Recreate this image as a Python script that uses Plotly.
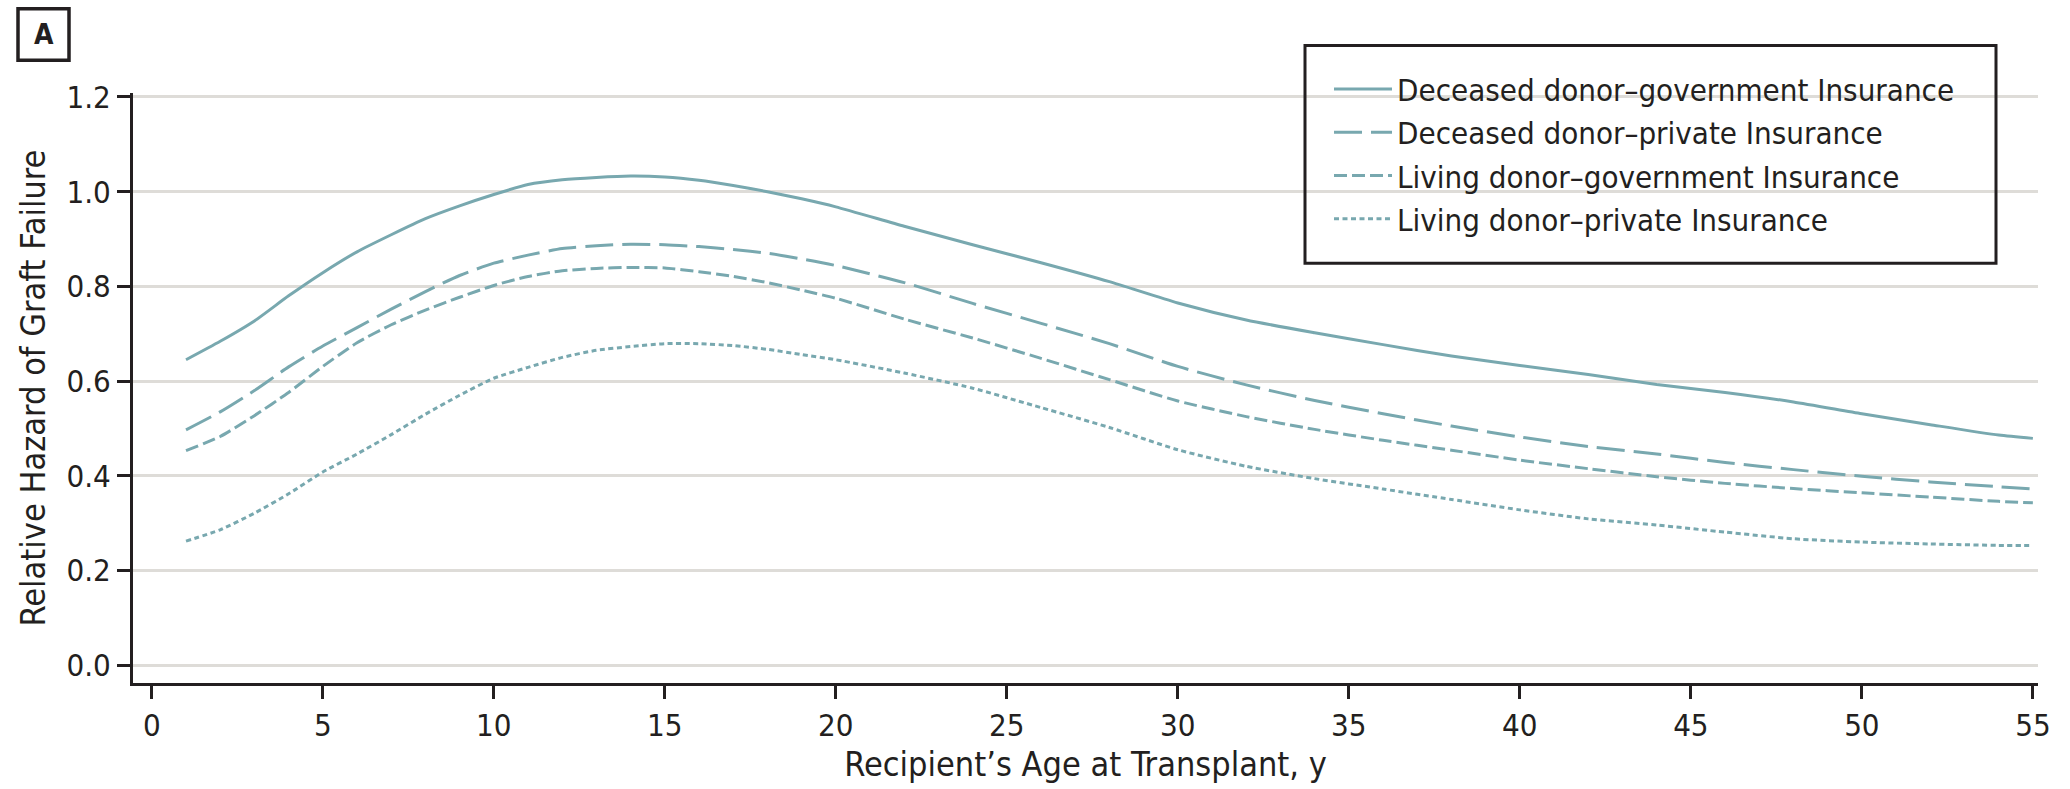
import plotly.graph_objects as go

# ---- data ----
ages = [1, 2, 3, 4, 5, 6, 7, 8, 9, 10, 11, 12, 13, 14, 15, 16, 17, 18, 19, 20,
        22, 24, 26, 28, 30, 32, 34, 36, 38, 40, 42, 44, 46, 48, 50, 52, 54, 55]

deceased_gov = [0.645, 0.684, 0.727, 0.780, 0.829, 0.873, 0.909, 0.943, 0.970, 0.994,
                1.015, 1.025, 1.030, 1.033, 1.031, 1.024, 1.013, 1.000, 0.985, 0.968,
                0.927, 0.888, 0.850, 0.810, 0.765, 0.729, 0.702, 0.677, 0.653, 0.633,
                0.614, 0.593, 0.576, 0.556, 0.531, 0.508, 0.486, 0.479]

deceased_priv = [0.497, 0.535, 0.580, 0.630, 0.674, 0.713, 0.752, 0.789, 0.823, 0.849,
                 0.866, 0.880, 0.886, 0.889, 0.888, 0.884, 0.878, 0.870, 0.858, 0.844,
                 0.808, 0.764, 0.722, 0.679, 0.631, 0.592, 0.559, 0.531, 0.505, 0.482,
                 0.462, 0.446, 0.428, 0.413, 0.399, 0.387, 0.377, 0.372]

living_gov = [0.453, 0.483, 0.527, 0.576, 0.631, 0.681, 0.719, 0.750, 0.777, 0.802,
              0.821, 0.833, 0.838, 0.840, 0.839, 0.831, 0.821, 0.808, 0.792, 0.775,
              0.731, 0.691, 0.648, 0.603, 0.558, 0.525, 0.498, 0.475, 0.454, 0.433,
              0.415, 0.398, 0.384, 0.373, 0.364, 0.355, 0.346, 0.343]

living_priv = [0.262, 0.286, 0.321, 0.362, 0.408, 0.446, 0.487, 0.530, 0.570, 0.606,
               0.629, 0.650, 0.665, 0.673, 0.679, 0.679, 0.675, 0.667, 0.656, 0.645,
               0.617, 0.585, 0.544, 0.502, 0.455, 0.420, 0.394, 0.372, 0.350, 0.328,
               0.309, 0.296, 0.281, 0.267, 0.260, 0.256, 0.253, 0.253]

series_names = ["Deceased donor\u2013government Insurance",
                "Deceased donor\u2013private Insurance",
                "Living donor\u2013government Insurance",
                "Living donor\u2013private Insurance"]
series_values = [deceased_gov, deceased_priv, living_gov, living_priv]
series_dash = ["solid", "28px,9px", "13px,5px", "5px,3.5px"]

x_ticks = [0, 5, 10, 15, 20, 25, 30, 35, 40, 45, 50, 55]
y_ticks = [0.0, 0.2, 0.4, 0.6, 0.8, 1.0, 1.2]

# ---- styling ----
FONT = "DejaVu Sans Condensed, Liberation Sans Narrow, Arial Narrow, sans-serif"
TEXT = "#231f20"
LINE = "#78a8af"
GRID = "#dedcd8"

W, H = 2070, 789
L, R, T, B = 133, 32, 93, 100
PW, PH = W - L - R, H - T - B


def px_x(p):
    return (p - L) / PW


def px_y(p):
    return (H - B - p) / PH


fig = go.Figure()
for name, vals, dash in zip(series_names, series_values, series_dash):
    fig.add_trace(go.Scatter(
        x=ages, y=vals, name=name, mode="lines",
        line=dict(color=LINE, width=3, dash=dash, shape="spline", smoothing=0.6),
    ))

fig.update_layout(
    width=W, height=H, autosize=False,
    margin=dict(l=L, r=R, t=T, b=B, pad=0),
    paper_bgcolor="white", plot_bgcolor="white",
    font=dict(family=FONT, size=32, color=TEXT),
    showlegend=True,
    legend=dict(
        x=px_x(1329), y=px_y(62), xanchor="left", yanchor="top",
        bgcolor="rgba(0,0,0,0)", borderwidth=0,
        font=dict(family=FONT, size=31, color=TEXT),
        tracegroupgap=0, itemwidth=58,
    ),
    xaxis=dict(
        range=[-0.55, 55.15], tickmode="array", tickvals=x_ticks,
        ticks="outside", ticklen=13, tickwidth=2.5, tickcolor=TEXT,
        showline=True, linewidth=3, linecolor=TEXT, mirror=False,
        showgrid=False, zeroline=False,
        tickfont=dict(family=FONT, size=31, color=TEXT),
        title=dict(text="Recipient\u2019s Age at Transplant, y",
                   font=dict(family=FONT, size=34, color=TEXT), standoff=10),
    ),
    yaxis=dict(
        range=[-0.0376, 1.2084], tickmode="array", tickvals=y_ticks,
        tickformat=".1f",
        ticks="outside", ticklen=13, tickwidth=2.5, tickcolor=TEXT,
        showline=True, linewidth=3, linecolor=TEXT,
        showgrid=True, gridcolor=GRID, gridwidth=2.5, zeroline=False,
        tickfont=dict(family=FONT, size=31, color=TEXT),
        title=dict(text="Relative Hazard of Graft Failure",
                   font=dict(family=FONT, size=34, color=TEXT), standoff=11),
    ),
    shapes=[
        dict(type="rect", xref="paper", yref="paper",
             x0=px_x(1305), x1=px_x(1996), y0=px_y(265), y1=px_y(45),
             line=dict(color=TEXT, width=3), fillcolor="rgba(0,0,0,0)", layer="above"),
        dict(type="rect", xref="paper", yref="paper",
             x0=px_x(18), x1=px_x(69), y0=px_y(60), y1=px_y(8),
             line=dict(color=TEXT, width=3.5), fillcolor="white", layer="above"),
    ],
    annotations=[
        dict(text="<b>A</b>", xref="paper", yref="paper",
             x=px_x(43.5), y=px_y(34), xanchor="center", yanchor="middle",
             showarrow=False, font=dict(family=FONT, size=28, color=TEXT)),
    ],
)

fig.write_html("out.html")
